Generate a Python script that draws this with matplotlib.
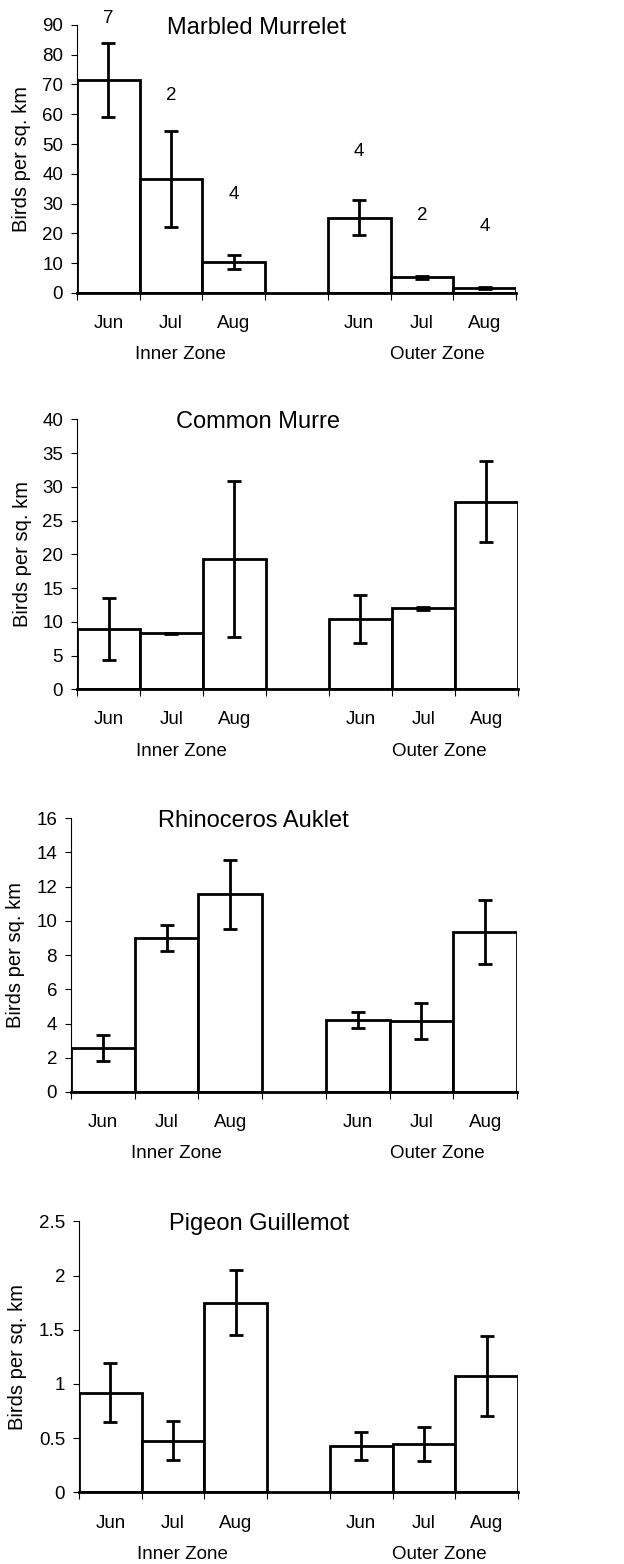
import numpy as np
import matplotlib.pyplot as plt
from matplotlib.transforms import blended_transform_factory

plt.rcParams['font.family'] = ['Liberation Sans', 'DejaVu Sans']

months = ["Jun", "Jul", "Aug", "Jun", "Jul", "Aug"]
zones = ["Inner Zone", "Outer Zone"]
ylabel = "Birds per sq. km"

# species densities (inner Jun, Jul, Aug, outer Jun, Jul, Aug) and error bars
murrelet = [71.5, 38.3, 10.4, 25.3, 5.2, 1.7]
murrelet_err = [12.4, 16.1, 2.5, 6.0, 0.5, 0.3]
murrelet_n = [7, 2, 4, 4, 2, 4]

murre = [8.9, 8.3, 19.3, 10.4, 12.0, 27.8]
murre_err = [4.6, 0.1, 11.6, 3.6, 0.2, 6.0]

auklet = [2.6, 9.0, 11.55, 4.2, 4.15, 9.35]
auklet_err = [0.76, 0.75, 2.04, 0.47, 1.06, 1.85]

guillemot = [0.92, 0.475, 1.75, 0.43, 0.445, 1.075]
guillemot_err = [0.275, 0.18, 0.30, 0.13, 0.16, 0.37]

# y positions of the sample size labels (panel 1 only)
n_label_y = [92.3, 66.2, 33.0, 47.5, 26.0, 22.4]

panels = [
    ("Marbled Murrelet", murrelet, murrelet_err, 90, 10, [0.1234, 0.8127, 0.7035, 0.1714], -0.105),
    ("Common Murre", murre, murre_err, 40, 5, [0.1234, 0.5593, 0.7067, 0.1726], -0.102),
    ("Rhinoceros Auklet", auklet, auklet_err, 16, 2, [0.1138, 0.3018, 0.7147, 0.1750], -0.103),
    ("Pigeon Guillemot", guillemot, guillemot_err, 2.5, 0.5, [0.1266, 0.0458, 0.7035, 0.1733], -0.118),
]

xpos = np.array([0, 1, 2, 4, 5, 6])
fs = 13.5

fig = plt.figure(figsize=(6.24, 15.64), dpi=100)

for k, (title, vals, errs, ymax, step, rect, ylab_x) in enumerate(panels):
    ax = fig.add_axes(rect)
    ax.bar(xpos, vals, width=1.0, color="white", edgecolor="black", linewidth=2, zorder=2)
    ax.errorbar(xpos, vals, yerr=errs, fmt="none", ecolor="black", elinewidth=2,
                capsize=5, capthick=2, zorder=3)
    ax.set_xlim(-0.5, 6.5)
    ax.set_ylim(0, ymax)
    ticks = np.arange(0, ymax + step / 2, step)
    ax.set_yticks(ticks)
    ax.set_yticklabels([("%g" % t) for t in ticks])
    ax.tick_params(axis="y", direction="out", length=4, width=0.8, labelsize=fs, pad=6)
    ax.set_xticks(xpos)
    ax.set_xticklabels(months)
    ax.tick_params(axis="x", which="major", length=0, labelsize=fs, pad=16)
    ax.set_xticks(np.arange(-0.5, 7.0, 1.0), minor=True)
    ax.tick_params(axis="x", which="minor", direction="out", length=5, width=0.8)
    for s in ("top", "right"):
        ax.spines[s].set_visible(False)
    ax.spines["left"].set_linewidth(0.8)
    ax.spines["bottom"].set_linewidth(2)
    ax.set_ylabel(ylabel, fontsize=14.5)
    ax.yaxis.set_label_coords(ylab_x, 0.5)
    ax.text(0.41, 0.99, title, transform=ax.transAxes, ha="center", va="center", fontsize=17)
    tr = blended_transform_factory(ax.transData, ax.transAxes)
    for zx, zname in zip([1.15, 5.25], zones):
        ax.annotate(zname, xy=(zx, 0), xycoords=tr, xytext=(0, -44.5),
                    textcoords="offset points", ha="center", va="center", fontsize=fs)
    if k == 0:
        for x, n, ly in zip(xpos, murrelet_n, n_label_y):
            ax.text(x, ly, str(n), ha="center", va="center", fontsize=fs, clip_on=False)

fig.savefig("out.png", dpi=100)
